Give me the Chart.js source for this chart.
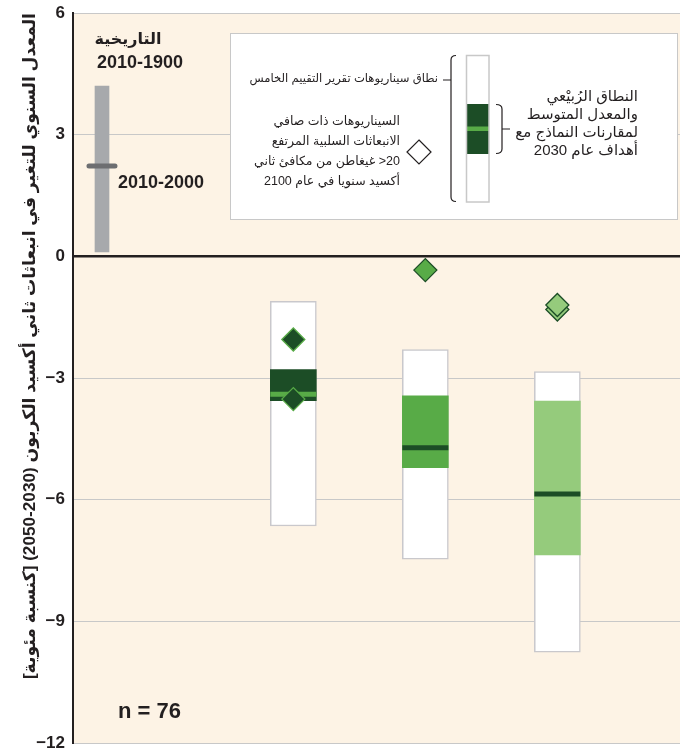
<!DOCTYPE html>
<html>
<head>
<meta charset="utf-8">
<script src="https://cdn.jsdelivr.net/npm/chart.js@4/dist/chart.umd.min.js"></script>
<style>
  html, body { margin: 0; padding: 0; background: #fff; }
</style>
</head>
<body>
<canvas id="chart" width="686" height="753"></canvas>
<script>
// scenario groups (box plots), left to right
const groups = [1, 2, 3]
const rangeLow = [-6.65, -7.47, -9.76]
const rangeHigh = [-1.11, -2.30, -2.84]
const q1 = [-3.56, -5.21, -7.36]
const q3 = [-2.79, -3.44, -3.57]
const medians = [-3.40, -4.72, -5.86]
const negEmissions = [[-2.05, -3.52], [-0.34], [-1.20, -1.31]]

// historical bar 1900-2010 and 2000-2010 marker
const histRange = [0.11, 4.20]
const histRecent = 2.23

const yTicks = [-12, -9, -6, -3, 0, 3, 6]
const sampleSize = 76

const FONT = "'Liberation Sans', Arial, 'DejaVu Sans', sans-serif"
const INK = '#231f20'
const DARK = '#1c4d26'
const MID = '#58ab47'
const LIGHT = '#95cb7c'
const groupFill = [DARK, MID, LIGHT]
const medianColor = [MID, DARK, DARK]
const diamondEdge = [MID, DARK, DARK]

const diamondPts = []
const diamondFill = []
const diamondLine = []
negEmissions.forEach((vals, i) => {
  vals.slice().sort((a, b) => a - b).forEach(v => {
    diamondPts.push({ x: groups[i], y: v })
    diamondFill.push(groupFill[i])
    diamondLine.push(diamondEdge[i])
  })
})

/* ===============================
   PLUGINS
================================ */
const paper = {
  id: 'paper',
  beforeDraw(chart) {
    const { ctx, chartArea: a } = chart
    ctx.save()
    ctx.fillStyle = '#fdf3e5'
    ctx.fillRect(a.left, a.top, a.right - a.left, a.bottom - a.top)
    ctx.restore()
  }
}

const roundCaps = {
  id: 'roundCaps',
  beforeDatasetDraw(chart, args) {
    if (chart.data.datasets[args.index].roundCap) chart.ctx.lineCap = 'round'
  },
  afterDatasetDraw(chart) {
    chart.ctx.lineCap = 'butt'
  }
}

function text(ctx, str, x, y, size, opts = {}) {
  ctx.font = `${opts.bold ? 'bold ' : ''}${size}px ${FONT}`
  ctx.fillStyle = opts.color || INK
  ctx.textAlign = opts.align || 'left'
  ctx.textBaseline = 'middle'
  ctx.direction = opts.rtl ? 'rtl' : 'ltr'
  ctx.fillText(str, x, y)
}

const notes = {
  id: 'notes',
  afterDraw(chart) {
    const ctx = chart.ctx
    ctx.save()

    // historical labels
    text(ctx, 'التاريخية', 128, 40, 16, { bold: true, align: 'center', rtl: true })
    text(ctx, '2010-1900', 97, 63, 18, { bold: true })
    text(ctx, '2010-2000', 118, 183, 18, { bold: true })
    text(ctx, 'n = ' + sampleSize, 118, 712, 22, { bold: true })

    // legend panel
    ctx.fillStyle = '#fff'
    ctx.strokeStyle = '#c8c8c8'
    ctx.lineWidth = 1
    ctx.fillRect(230, 33, 447, 186)
    ctx.strokeRect(230.5, 33.5, 447, 186)

    // mini box
    ctx.fillStyle = '#fff'
    ctx.fillRect(466, 55, 23, 147)
    ctx.fillStyle = DARK
    ctx.fillRect(466, 104, 23, 50)
    ctx.fillStyle = MID
    ctx.fillRect(466, 126.5, 23, 4.5)
    ctx.strokeStyle = '#c8c8c8'
    ctx.lineWidth = 1.5
    ctx.strokeRect(466.5, 55.5, 22.5, 146.5)

    // brackets
    ctx.strokeStyle = INK
    ctx.lineWidth = 1.2
    ctx.beginPath()
    ctx.moveTo(456, 55.5)
    ctx.quadraticCurveTo(451, 55.5, 451, 60)
    ctx.lineTo(451, 197)
    ctx.quadraticCurveTo(451, 201.5, 456, 201.5)
    ctx.moveTo(443, 80)
    ctx.lineTo(451, 80)
    ctx.moveTo(496, 104.5)
    ctx.quadraticCurveTo(502, 104.5, 502, 109)
    ctx.lineTo(502, 149)
    ctx.quadraticCurveTo(502, 153.5, 496, 153.5)
    ctx.moveTo(502, 129)
    ctx.lineTo(510, 129)
    ctx.stroke()

    // open diamond
    ctx.fillStyle = '#fff'
    ctx.beginPath()
    ctx.moveTo(419, 140)
    ctx.lineTo(431, 152)
    ctx.lineTo(419, 164)
    ctx.lineTo(407, 152)
    ctx.closePath()
    ctx.fill()
    ctx.stroke()

    text(ctx, 'نطاق سيناريوهات تقرير التقييم الخامس', 438, 79, 11.6, { align: 'right', rtl: true })

    const diamondLines = ['السيناريوهات ذات صافي', 'الانبعاثات السلبية المرتفع', '20< غيغاطن من مكافئ ثاني', 'أكسيد سنويا في عام 2100']
    diamondLines.forEach((l, i) => text(ctx, l, 400, 122 + i * 20, 12.5, { align: 'right', rtl: true }))

    const boxLines = ['النطاق الرُبيْعي', 'والمعدل المتوسط', 'لمقارنات النماذج مع', 'أهداف عام 2030']
    boxLines.forEach((l, i) => text(ctx, l, 638, 97 + i * 18, 15, { align: 'right', rtl: true }))

    ctx.restore()
  }
}

/* ===============================
   DATASETS
================================ */
const datasets = [
  {
    type: 'bar',
    data: [{ x: 0, y: histRange }],
    xAxisID: 'xh',
    backgroundColor: '#a7a9ac',
    borderWidth: 0,
    barThickness: 14,
    grouped: false,
    order: 9
  },
  {
    type: 'line',
    data: [{ x: 0, y: histRecent }],
    xAxisID: 'xh',
    showLine: false,
    roundCap: true,
    pointStyle: 'line',
    pointRadius: 13,
    pointBorderWidth: 5,
    pointBorderColor: '#6d6e71',
    order: 8
  },
  {
    type: 'bar',
    data: groups.map((g, i) => ({ x: g, y: [rangeLow[i], rangeHigh[i]] })),
    backgroundColor: '#fff',
    borderColor: '#c9c8cc',
    borderWidth: 1.5,
    borderSkipped: false,
    barThickness: 46,
    grouped: false,
    order: 7
  },
  {
    type: 'bar',
    data: groups.map((g, i) => ({ x: g, y: [q1[i], q3[i]] })),
    backgroundColor: groupFill,
    borderWidth: 0,
    barThickness: 46,
    grouped: false,
    order: 6
  },
  {
    type: 'line',
    data: groups.map((g, i) => ({ x: g, y: medians[i] })),
    showLine: false,
    pointStyle: 'line',
    pointRadius: 23,
    pointBorderWidth: 5,
    pointBorderColor: medianColor,
    order: 5
  },
  {
    type: 'line',
    data: diamondPts,
    showLine: false,
    pointStyle: 'rectRot',
    pointRadius: 11.5,
    pointBorderWidth: 1.3,
    pointBackgroundColor: diamondFill,
    pointBorderColor: diamondLine,
    order: 1
  }
]

new Chart(document.getElementById('chart'), {
  type: 'bar',
  data: { datasets },
  plugins: [paper, roundCaps, notes],
  options: {
    responsive: false,
    animation: false,
    layout: { autoPadding: false, padding: { top: 13, right: 6, bottom: 10, left: 0 } },
    plugins: { legend: { display: false }, tooltip: { enabled: false } },
    scales: {
      x: { type: 'linear', display: false, offset: false, min: -0.669, max: 3.929 },
      xh: { type: 'linear', display: false, offset: false, min: -0.5, max: 9.966 },
      y: {
        min: -12,
        max: 6,
        afterBuildTicks: s => { s.ticks = yTicks.map(v => ({ value: v })) },
        afterFit: s => {
          s.width = 73
          s.paddingTop = 0
          s.paddingBottom = 0
        },
        ticks: {
          color: INK,
          padding: 8,
          font: { family: FONT, size: 17, weight: 'bold' },
          callback: v => v < 0 ? '\u2212' + Math.abs(v) : String(v)
        },
        grid: {
          drawTicks: false,
          color: c => c.tick && c.tick.value === 0 ? INK : '#c8c8c8',
          lineWidth: c => c.tick && c.tick.value === 0 ? 2.5 : 1
        },
        border: { color: INK, width: 2 },
        title: {
          display: true,
          align: 'end',
          text: '\u202Bالمعدل السنوي للتغير في انبعاثات ثاني أكسيد الكربون (2030-2050) [كنسبة مئوية]\u202C',
          color: INK,
          font: { family: FONT, size: 17.2, weight: 'bold' },
          padding: { top: 20, bottom: 0 }
        }
      }
    }
  }
})
</script>
</body>
</html>
